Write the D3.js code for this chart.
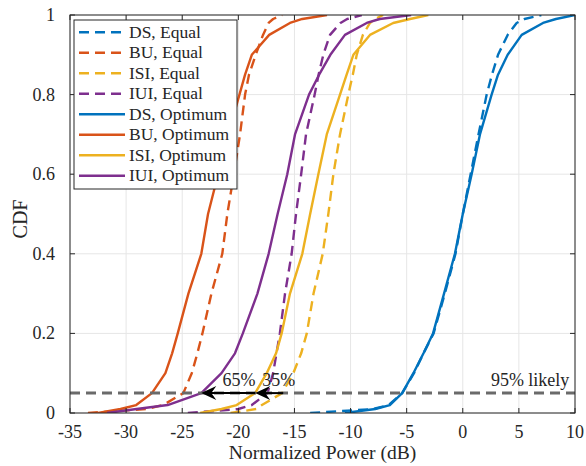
<!DOCTYPE html>
<html><head><meta charset="utf-8">
<script src="https://cdn.jsdelivr.net/npm/d3@7/dist/d3.min.js"></script>
<style>
body{margin:0;background:#fff;}
</style></head><body>
<svg id="c" width="586" height="466"></svg>
<script>
// CDF probability levels shared by all series
const probs = [0, 0.01, 0.02, 0.05, 0.1, 0.15, 0.2, 0.3, 0.4, 0.5, 0.6, 0.7, 0.8, 0.85, 0.9, 0.95, 0.98, 0.99, 1];
// Normalized power (dB) at each probability level
const dsEqual  = [-13.6, -8.0, -6.6, -5.4, -4.35, -3.5, -2.6, -1.6, -0.65, 0.0, 0.7, 1.4, 2.13, 2.6, 3.14, 4.0, 4.8, 5.5, 7.0];
const buEqual  = [-33.4, -28.2, -26.7, -24.9, -24.15, -23.65, -23.2, -22.4, -21.43, -20.98, -20.4, -19.85, -19.4, -19.05, -18.45, -17.8, -17.3, -16.9, -16.1];
const isiEqual = [-20.7, -18.4, -17.9, -16.1, -15.1, -14.4, -13.9, -13.3, -12.48, -11.98, -11.53, -10.94, -10.2, -9.8, -9.45, -8.9, -8.27, -7.8, -7.1];
const iuiEqual = [-24.5, -20.0, -18.8, -17.4, -16.9, -16.6, -16.3, -15.84, -15.25, -14.86, -14.4, -13.97, -13.2, -12.85, -12.43, -11.83, -10.9, -10.3, -9.0];
const dsOpt    = [-10.5, -7.8, -6.5, -5.4, -4.4, -3.5, -2.65, -1.67, -0.7, 0.0, 0.79, 1.53, 2.57, 3.14, 4.0, 5.25, 7.15, 8.3, 10.0];
const buOpt    = [-32.5, -30.5, -29.1, -27.7, -26.5, -25.9, -25.4, -24.45, -23.3, -22.7, -21.8, -20.9, -19.9, -19.4, -18.8, -17.25, -15.4, -14.3, -12.1];
const isiOpt   = [-23.4, -21.5, -20.15, -18.5, -17.47, -16.64, -16.14, -15.4, -14.3, -13.6, -12.87, -12.12, -10.94, -10.35, -9.75, -8.27, -6.2, -4.7, -3.07];
const iuiOpt   = [-31.7, -29.06, -26.3, -23.3, -21.5, -20.3, -19.6, -18.3, -17.3, -16.5, -15.64, -14.95, -13.7, -12.8, -11.8, -10.5, -8.56, -7.4, -4.6];

const seriesNames = ["DS, Equal", "BU, Equal", "ISI, Equal", "IUI, Equal", "DS, Optimum", "BU, Optimum", "ISI, Optimum", "IUI, Optimum"];
const seriesData = [dsEqual, buEqual, isiEqual, iuiEqual, dsOpt, buOpt, isiOpt, iuiOpt];
const seriesDashed = [true, true, true, true, false, false, false, false];
const seriesColors = ["#0072BD", "#D95319", "#EDB120", "#7E2F8E", "#0072BD", "#D95319", "#EDB120", "#7E2F8E"];

const xTicks = [-35, -30, -25, -20, -15, -10, -5, 0, 5, 10];
const yTicks = [0, 0.2, 0.4, 0.6, 0.8, 1];
const likelyLevel = 0.05;
const arrows = [[-16.0, -18.5], [-18.5, -23.3]];
const arrowLabels = [{t: "65%", x: -19.95}, {t: "35%", x: -16.4}];
const labelLevel = 0.068;

const W = 586, H = 466;
const m = {l: 70, r: 11, t: 15, b: 53};
const svg = d3.select("#c").style("font-family", '"Liberation Serif"');
const x = d3.scaleLinear().domain([-35, 10]).range([m.l, W - m.r]);
const y = d3.scaleLinear().domain([0, 1]).range([H - m.b, m.t]);
const axisCol = "#262626";
const txtCol = "#262626";
const FF = '"Liberation Serif"';

function txt(sel) { return sel.append("text").style("font-family", FF).attr("fill", txtCol); }

// grid
const g = svg.append("g");
g.selectAll(".gx").data(xTicks).enter().append("line")
  .attr("x1", d => x(d)).attr("x2", d => x(d)).attr("y1", y(0)).attr("y2", y(1))
  .attr("stroke", "#e6e6e6").attr("stroke-width", 1);
g.selectAll(".gy").data(yTicks).enter().append("line")
  .attr("y1", d => y(d)).attr("y2", d => y(d)).attr("x1", x(-35)).attr("x2", x(10))
  .attr("stroke", "#e6e6e6").attr("stroke-width", 1);

// clip
svg.append("clipPath").attr("id", "clip").append("rect")
  .attr("x", m.l).attr("y", m.t).attr("width", W - m.l - m.r).attr("height", H - m.t - m.b);
const plot = svg.append("g").attr("clip-path", "url(#clip)");

const line = d3.line().x(d => x(d[0])).y(d => y(d[1]));
seriesData.forEach((s, i) => {
  const pts = s.map((v, j) => [v, probs[j]]);
  plot.append("path").attr("d", line(pts)).attr("fill", "none")
    .attr("stroke", seriesColors[i]).attr("stroke-width", 2.4)
    .attr("stroke-linejoin", "round")
    .attr("stroke-dasharray", seriesDashed[i] ? "10,6" : null);
});

// 95% likely line
plot.append("line").attr("x1", x(-35)).attr("x2", x(10))
  .attr("y1", y(likelyLevel)).attr("y2", y(likelyLevel))
  .attr("stroke", "#6a6a6a").attr("stroke-width", 3).attr("stroke-dasharray", "10,6");

// arrows
arrows.forEach(a => {
  const x0 = x(a[0]), x1 = x(a[1]), yy = y(likelyLevel);
  svg.append("line").attr("x1", x0).attr("x2", x1 + 8).attr("y1", yy).attr("y2", yy)
    .attr("stroke", "#000").attr("stroke-width", 2);
  svg.append("path")
    .attr("d", `M${x1},${yy} L${x1 + 15},${yy - 7} L${x1 + 10},${yy} L${x1 + 15},${yy + 7} Z`)
    .attr("fill", "#000");
});
arrowLabels.forEach(l => {
  txt(svg).attr("x", x(l.x)).attr("y", y(labelLevel)).attr("text-anchor", "middle")
    .attr("font-size", 18).text(l.t);
});
txt(svg).attr("x", x(9.5)).attr("y", y(labelLevel)).attr("text-anchor", "end")
  .attr("font-size", 18).text("95% likely");

// axes box and ticks
const ax = svg.append("g");
ax.append("rect").attr("x", m.l).attr("y", m.t).attr("width", W - m.l - m.r).attr("height", H - m.t - m.b)
  .attr("fill", "none").attr("stroke", axisCol).attr("stroke-width", 1);
const tl = 5;
xTicks.forEach(t => {
  ax.append("line").attr("x1", x(t)).attr("x2", x(t)).attr("y1", y(0)).attr("y2", y(0) - tl).attr("stroke", axisCol);
  ax.append("line").attr("x1", x(t)).attr("x2", x(t)).attr("y1", y(1)).attr("y2", y(1) + tl).attr("stroke", axisCol);
  txt(ax).attr("x", x(t)).attr("y", 438).attr("text-anchor", "middle").attr("font-size", 18).text(t);
});
yTicks.forEach(t => {
  ax.append("line").attr("x1", x(-35)).attr("x2", x(-35) + tl).attr("y1", y(t)).attr("y2", y(t)).attr("stroke", axisCol);
  ax.append("line").attr("x1", x(10)).attr("x2", x(10) - tl).attr("y1", y(t)).attr("y2", y(t)).attr("stroke", axisCol);
  txt(ax).attr("x", 55).attr("y", y(t) + 6).attr("text-anchor", "end").attr("font-size", 18).text(t);
});
txt(svg).attr("x", x(-12.5)).attr("y", 459).attr("text-anchor", "middle").attr("font-size", 19.5)
  .text("Normalized Power (dB)");
txt(svg).attr("transform", "translate(27,219) rotate(-90)").attr("text-anchor", "middle")
  .attr("font-size", 20).text("CDF");

// legend
const lg = svg.append("g");
const lx = 74, ly = 20, lw = 163, lh = 169;
lg.append("rect").attr("x", lx).attr("y", ly).attr("width", lw).attr("height", lh)
  .attr("fill", "#fff").attr("stroke", axisCol).attr("stroke-width", 1);
seriesNames.forEach((n, i) => {
  const cy = 32.3 + i * 20.5;
  lg.append("line").attr("x1", 79).attr("x2", 125).attr("y1", cy).attr("y2", cy)
    .attr("stroke", seriesColors[i]).attr("stroke-width", 2.4)
    .attr("stroke-dasharray", seriesDashed[i] ? "10,6" : null);
  txt(lg).attr("x", 129).attr("y", cy + 5.5).attr("font-size", 17.5).text(n);
});
</script>
</body></html>
